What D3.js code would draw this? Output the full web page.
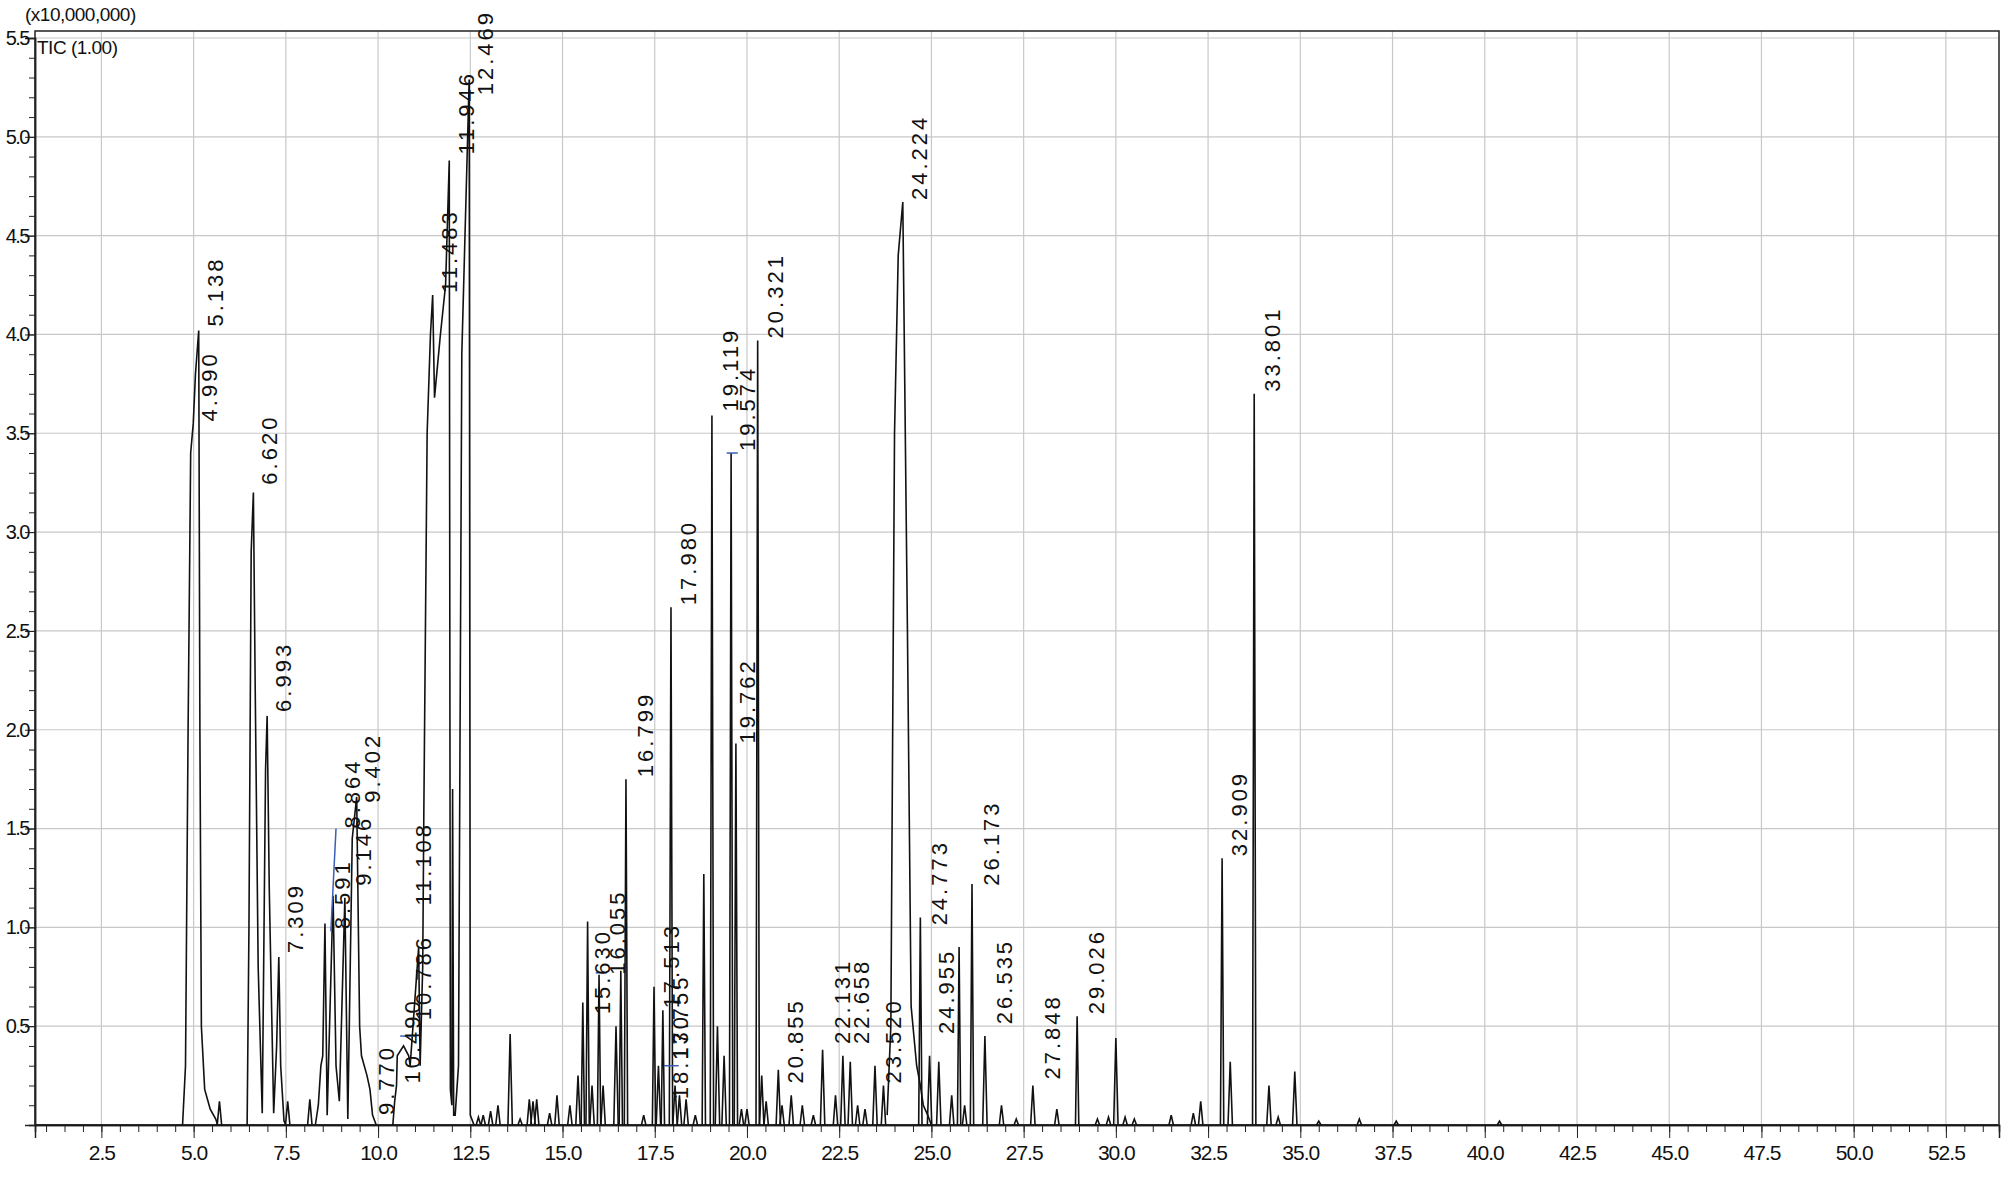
<!DOCTYPE html>
<html>
<head>
<meta charset="utf-8">
<script src="https://cdn.jsdelivr.net/npm/d3@7"></script>
<style>
  body { margin: 0; background: #fff; }
  svg { display: block; }
  text { font-family: "Liberation Sans", Arial, sans-serif; fill: #111; }
</style>
</head>
<body>
<svg id="svg" width="2001" height="1177"></svg>
<script>
// tracés complexes (temps en min, intensité x10,000,000)
const segments = [
  [[4.70,0],[4.78,0.3],[4.85,2.0],[4.92,3.4],[4.99,3.55],[5.05,3.8],[5.138,4.02],[5.17,2.0],[5.21,0.5],[5.3,0.18],[5.45,0.08],[5.6,0.03],[5.65,0]],
  [[6.45,0],[6.5,1.0],[6.56,2.9],[6.62,3.2],[6.67,2.2],[6.75,0.8],[6.86,0.06],[6.95,1.8],[6.993,2.07],[7.05,1.2],[7.17,0.06],[7.25,0.4],[7.309,0.85],[7.36,0.3],[7.45,0.02],[7.5,0]],
  [[8.3,0],[8.38,0.1],[8.45,0.3],[8.5,0.35],[8.56,1.02],[8.62,0.05],[8.78,1.16],[8.86,0.3],[8.95,0.12],[9.1,1.15],[9.18,0.03],[9.30,1.45],[9.42,1.66],[9.5,0.5],[9.55,0.35],[9.7,0.25],[9.78,0.18],[9.85,0.05],[9.95,0]],
  [[10.40,0],[10.45,0.12],[10.5,0.2],[10.52,0.35],[10.69,0.4],[10.83,0.35],[10.87,0.3],[11.1,0.9],[11.14,0.3],[11.21,0.8],[11.24,1.57],[11.33,3.5],[11.42,4.0],[11.48,4.2],[11.53,3.68],[11.69,4.0],[11.83,4.25],[11.93,4.88],[11.96,0.18],[12.0,0.1],[12.02,1.7],[12.05,0.05],[12.09,0.05],[12.18,0.3],[12.27,3.9],[12.47,5.29],[12.5,0.05],[12.6,0]],
  [[23.8,0.05],[23.9,0.5],[24.0,3.5],[24.1,4.4],[24.224,4.67],[24.35,2.5],[24.45,0.6],[24.6,0.3],[24.7,0.2],[24.78,0.1],[24.9,0.05],[25.0,0]]
];

// pics isolés [temps, hauteur]
const spikes = [
  [5.7,0.12],[7.55,0.12],[8.15,0.13],[12.72,0.04],[12.85,0.05],[13.05,0.07],[13.25,0.1],[13.58,0.46],[13.85,0.03],
  [14.1,0.13],[14.2,0.12],[14.3,0.13],[14.65,0.06],[14.85,0.15],[15.2,0.1],[15.42,0.25],[15.55,0.62],[15.68,1.03],
  [15.8,0.2],[15.99,0.76],[16.1,0.2],[16.45,0.5],[16.58,0.78],[16.72,1.75],[17.2,0.05],[17.48,0.7],[17.6,0.3],
  [17.72,0.58],[17.94,2.62],[18.05,0.2],[18.17,0.15],[18.35,0.13],[18.6,0.05],[18.83,1.27],[19.05,3.59],[19.2,0.5],
  [19.38,0.35],[19.57,3.4],[19.7,1.93],[19.85,0.08],[20.0,0.08],[20.29,3.97],[20.4,0.25],[20.52,0.12],[20.85,0.28],
  [20.95,0.1],[21.2,0.15],[21.5,0.1],[21.8,0.05],[22.05,0.38],[22.4,0.15],[22.6,0.35],[22.8,0.32],[23.0,0.1],
  [23.2,0.08],[23.47,0.3],[23.7,0.2],[24.7,1.05],[24.95,0.35],[25.2,0.32],[25.55,0.15],[25.75,0.9],[25.9,0.1],
  [26.1,1.22],[26.45,0.45],[26.9,0.1],[27.3,0.03],[27.75,0.2],[28.4,0.08],[28.95,0.55],[29.5,0.03],[29.8,0.04],
  [30.0,0.44],[30.25,0.04],[30.5,0.03],[31.5,0.05],[32.1,0.06],[32.3,0.12],[32.88,1.35],[33.1,0.32],[33.75,3.7],
  [34.15,0.2],[34.4,0.04],[34.85,0.27],[35.5,0.02],[36.6,0.03],[37.6,0.02],[40.4,0.02]
];

// étiquettes [texte, temps, hauteur du bas]
const peakLabels = [
  ["5.138",5.138,4.03],["4.990",4.99,3.55],["6.620",6.62,3.23],["6.993",6.993,2.08],["7.309",7.309,0.86],
  ["8.591",8.591,0.98],["8.864",8.864,1.49],["9.146",9.146,1.2],["9.402",9.402,1.62],["9.770",9.77,0.04],
  ["10.490",10.49,0.2],["10.786",10.786,0.52],["11.108",10.786,1.1],["11.483",11.483,4.2],["11.946",11.946,4.9],
  ["12.469",12.469,5.2],["15.630",15.63,0.55],["16.055",16.055,0.75],["16.799",16.799,1.75],["17.513",17.513,0.58],
  ["17.755",17.755,0.32],["18.130",17.755,0.12],["17.980",17.98,2.62],["19.119",19.119,3.6],["19.574",19.574,3.4],
  ["19.762",19.574,1.92],["20.321",20.321,3.97],["20.855",20.855,0.2],["22.131",22.131,0.4],["22.658",22.658,0.4],
  ["23.520",23.52,0.2],["24.224",24.224,4.67],["24.773",24.773,1.0],["24.955",24.955,0.45],["26.173",26.173,1.2],
  ["26.535",26.535,0.5],["27.848",27.848,0.22],["29.026",29.026,0.55],["32.909",32.909,1.35],["33.801",33.801,3.7]
];

// traits bleus [t1, y1, t2, y2]
const leaders = [[8.72,0.98,8.86,1.5],[10.6,0.45,11.0,0.45],[15.9,0.77,16.2,0.77],[17.75,0.3,18.15,0.3],[19.45,3.4,19.75,3.4]];

const xMajor = d3.range(2.5, 53, 2.5);
const xMinor = d3.range(1.0, 53.9, 0.5);
const yMajor = d3.range(0.5, 5.51, 0.5);
const yMinor = d3.range(0.1, 5.55, 0.1);

const svg = d3.select("#svg");
const L = 35, R = 1999, T = 31, B = 1125;
const x = d3.scaleLinear().domain([0.7, 53.94]).range([L, R]);
const y = d3.scaleLinear().domain([0, 5.5]).range([B, 38]);

// grille
svg.append("g").selectAll("line").data(xMajor).join("line")
  .attr("x1", d => x(d)).attr("x2", d => x(d)).attr("y1", T).attr("y2", B)
  .attr("stroke", "#c8c8c8").attr("stroke-width", 1.2);
svg.append("g").selectAll("line").data(yMajor).join("line")
  .attr("x1", L).attr("x2", R).attr("y1", d => y(d)).attr("y2", d => y(d))
  .attr("stroke", "#c8c8c8").attr("stroke-width", 1.2);

// cadre
svg.append("rect").attr("x", L).attr("y", T).attr("width", R - L).attr("height", B - T)
  .attr("fill", "none").attr("stroke", "#222").attr("stroke-width", 1.5);

// axes
const xAxisMinor = d3.axisBottom(x).tickValues(xMinor).tickSize(7).tickFormat("");
const xAxis = d3.axisBottom(x).tickValues(xMajor).tickSize(13).tickFormat(d3.format(".1f"));
svg.append("g").attr("transform", `translate(0,${B})`).call(xAxisMinor);
svg.append("g").attr("transform", `translate(0,${B})`).call(xAxis)
  .call(g => g.selectAll("text").attr("dy", "0.9em").style("font-size", "21px").style("letter-spacing", "-1px"));
const yAxisMinor = d3.axisLeft(y).tickValues(yMinor).tickSize(6).tickFormat("");
const yAxis = d3.axisLeft(y).tickValues(yMajor).tickSize(10).tickFormat(d3.format(".1f"));
svg.append("g").attr("transform", `translate(${L},0)`).call(yAxisMinor);
svg.append("g").attr("transform", `translate(${L},0)`).call(yAxis)
  .call(g => g.selectAll("text").attr("x", -6).style("font-size", "20px").style("letter-spacing", "-1.5px"));
svg.selectAll(".domain").attr("stroke", "#222").attr("stroke-width", 1.5);
svg.selectAll(".tick line").attr("stroke", "#222");

svg.append("text").attr("x", 25).attr("y", 21).style("font-size", "19px").style("letter-spacing", "-0.5px").text("(x10,000,000)");
svg.append("text").attr("x", 37).attr("y", 54).style("font-size", "19px").style("letter-spacing", "-0.5px").text("TIC (1.00)");

// tracé
const line = d3.line().x(d => x(d[0])).y(d => y(d[1]));
const plot = svg.append("g").attr("fill", "none").attr("stroke", "#111").attr("stroke-width", 1.6);
plot.append("path").attr("d", line([[0.7, 0], [53.9, 0]])).attr("stroke-width", 1.2);
plot.selectAll(".seg").data(segments).join("path").attr("class", "seg").attr("d", line);
plot.selectAll(".spk").data(spikes).join("path").attr("class", "spk")
  .attr("d", d => {
    const w = d[1] > 0.5 ? 0.045 : 0.06;
    return line([[d[0] - w, 0], [d[0], d[1]], [d[0] + w, 0]]);
  });

svg.append("g").selectAll("line").data(leaders).join("line")
  .attr("x1", d => x(d[0])).attr("y1", d => y(d[1])).attr("x2", d => x(d[2])).attr("y2", d => y(d[3]))
  .attr("stroke", "#3a5fb8").attr("stroke-width", 1.5);

svg.append("g").selectAll("text").data(peakLabels).join("text")
  .attr("transform", d => `translate(${x(d[1]) + 24},${y(d[2]) - 2}) rotate(-90)`)
  .style("font-size", "22px").style("letter-spacing", "3px")
  .text(d => d[0]);
</script>
</body>
</html>
